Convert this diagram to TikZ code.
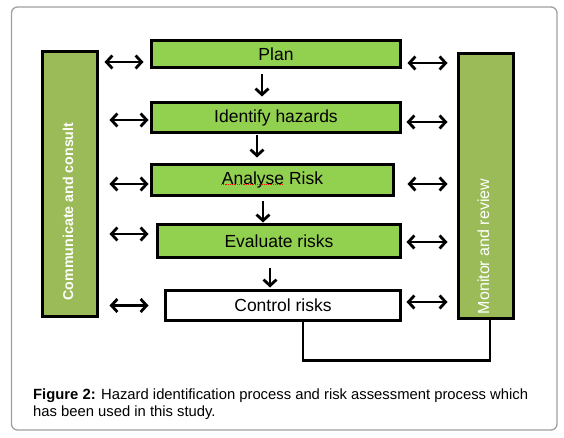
\documentclass[tikz,border=0pt]{standalone}
\usepackage{fontspec}
\setmainfont{Liberation Sans}
\usetikzlibrary{arrows.meta}
\definecolor{boxgreen}{HTML}{92D050}
\definecolor{colgreen}{HTML}{9BBB59}
\definecolor{framegray}{HTML}{A0A0A0}
\begin{document}
\begin{tikzpicture}[x=1pt,y=-1pt,
  stepbox/.style={draw=black, line width=3.4pt, fill=boxgreen, inner sep=0pt, outer sep=0pt,
    font=\fontsize{17.5}{20}\selectfont},
  colbox/.style={draw=black, line width=3.4pt, fill=colgreen, inner sep=0pt, outer sep=0pt,
    minimum width=55pt, minimum height=265pt},
  dbl/.style={line width=2.8pt, {Straight Barb[length=6pt,width=13pt]}-{Straight Barb[length=6pt,width=13pt]}},
  down/.style={line width=2.8pt, -{Straight Barb[length=6pt,width=13pt]}},
  coltext/.style={rotate=90, text=white, inner sep=0pt}
]
\useasboundingbox (0,0) rectangle (564,438);
\draw[framegray, line width=1.3pt, rounded corners=6pt] (11.5,7) rectangle (557,430);

% process boxes
\node[stepbox, minimum width=249pt, minimum height=27pt] (plan) at (276,54) {Plan};
\node[stepbox, minimum width=249pt, minimum height=30pt] (ident) at (276,117.5) {Identify hazards};
\node[stepbox, minimum width=242pt, minimum height=31pt] (analyse) at (272.5,180) {Analyse Risk};
\node[stepbox, minimum width=243pt, minimum height=33pt] (eval) at (279,241) {Evaluate risks};
\node[stepbox, fill=white, minimum width=235pt, minimum height=30pt] (ctrl) at (283,305.5) {Control risks};

% spell-check underline
\draw[red!85!orange, line width=0.6pt, dash pattern=on 1pt off 0.8pt]
  ([xshift=-51.5pt,yshift=-4.5pt]analyse.center) -- ++(62,0);

% side columns
\node[colbox] (lc) at (70,184) {};
\node[colbox] (rc) at (486,186) {};
\node[coltext, font=\bfseries\fontsize{14.2}{16}\selectfont] (lct) at (68,211.5) {Communicate and consult};
\node[coltext, font=\fontsize{16}{18}\selectfont] (rct) at (483.5,246.5) {Monitor and review};

% down arrows
\draw[down, shorten <=7pt, shorten >=6pt] ([xshift=-14pt]plan.south) -- ([xshift=-14pt]plan.south |- ident.north);
\draw[down, shorten <=3pt, shorten >=7pt] ([xshift=-19pt]ident.south) -- ([xshift=-19pt]ident.south |- analyse.north);
\draw[down, shorten <=6pt, shorten >=2pt] ([xshift=-9.5pt]analyse.south) -- ([xshift=-9.5pt]analyse.south |- eval.north);
\draw[down, shorten <=10pt, shorten >=3pt] ([xshift=-9pt]eval.south) -- ([xshift=-9pt]eval.south |- ctrl.north);

% left double arrows
\draw[dbl, shorten <=7pt, shorten >=8pt] ([yshift=-8pt]plan.west -| lc.east) -- ([yshift=-8pt]plan.west);
\draw[dbl, shorten <=12pt, shorten >=3pt] ([yshift=-2.5pt]ident.west -| lc.east) -- ([yshift=-2.5pt]ident.west);
\draw[dbl, shorten <=12pt, shorten >=3pt] ([yshift=-4pt]analyse.west -| lc.east) -- ([yshift=-4pt]analyse.west);
\draw[dbl, shorten <=12pt, shorten >=9pt] ([yshift=7pt]eval.west -| lc.east) -- ([yshift=7pt]eval.west);
\draw[dbl, shorten <=12pt, shorten >=17pt] (ctrl.west -| lc.east) -- (ctrl.west);

% right double arrows
\draw[dbl, shorten <=7pt, shorten >=11pt] ([yshift=-9pt]plan.east) -- ([yshift=-9pt]plan.east -| rc.west);
\draw[dbl, shorten <=6pt, shorten >=11pt] ([yshift=-4.5pt]ident.east) -- ([yshift=-4.5pt]ident.east -| rc.west);
\draw[dbl, shorten <=14pt, shorten >=11pt] ([yshift=-4pt]analyse.east) -- ([yshift=-4pt]analyse.east -| rc.west);
\draw[dbl, shorten <=6pt, shorten >=11pt] ([yshift=-1pt]eval.east) -- ([yshift=-1pt]eval.east -| rc.west);
\draw[dbl, shorten <=6pt, shorten >=11pt] ([yshift=3.5pt]ctrl.east) -- ([yshift=3.5pt]ctrl.east -| rc.west);

% feedback loop
\draw[line width=2.8pt] ([xshift=20pt]ctrl.south) -- ++(0,40) -| ([xshift=4pt]rc.south);

% caption
\node[anchor=base west, inner sep=0pt, font=\fontsize{14.8}{17}\selectfont] (cap1) at (33,399)
  {\textbf{Figure 2:} Hazard identification process and risk assessment process which};
\node[anchor=base west, inner sep=0pt, font=\fontsize{14.8}{17}\selectfont] (cap2) at (33,416.5)
  {has been used in this study.};
\end{tikzpicture}
\end{document}
